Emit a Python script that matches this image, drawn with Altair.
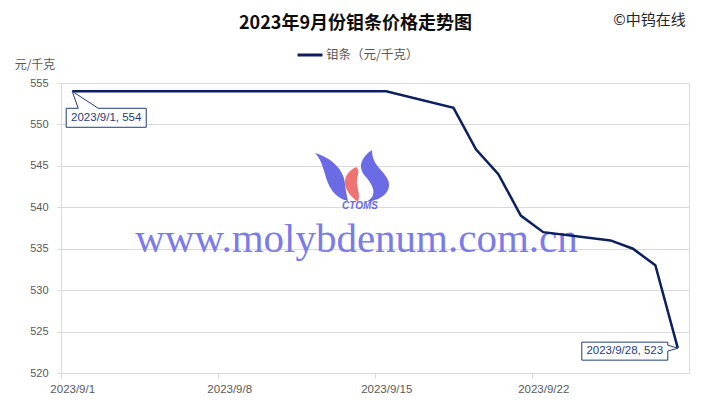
import altair as alt
import pandas as pd

# ---- data ----
dates = ["2023-09-01", "2023-09-04", "2023-09-05", "2023-09-06", "2023-09-07",
         "2023-09-08", "2023-09-11", "2023-09-12", "2023-09-13", "2023-09-14",
         "2023-09-15", "2023-09-18", "2023-09-19", "2023-09-20", "2023-09-21",
         "2023-09-22", "2023-09-25", "2023-09-26", "2023-09-27", "2023-09-28"]
prices = [554, 554, 554, 554, 554,
          554, 554, 554, 554, 554,
          554, 552, 547, 544, 539,
          537, 536, 535, 533, 523]
series_name = "钼条（元/千克）"
title_text = "2023年9月份钼条价格走势图"
copyright_text = "©中钨在线"
y_title = "元/千克"
y_ticks = [520, 525, 530, 535, 540, 545, 550, 555]
watermark_text = "www.molybdenum.com.cn"
logo_text = "CTOMS"

NAVY = "#0c1f5e"
BOX = "#1f3c7a"
GRAY_TXT = "#595959"
GRID = "#d9d9d9"
W, H = 628, 290

df = pd.DataFrame({"date": dates, "price": prices, "series": series_name})
df["label"] = [f"{d[:4]}/{int(d[5:7])}/{int(d[8:10])}, {p}" for d, p in zip(dates, prices)]

first = df.iloc[[0]]
last = df.iloc[[-1]]

x_scale = alt.Scale(type="utc",
                    domain=[alt.DateTime(year=2023, month=8, date=31, hours=12, utc=True),
                            alt.DateTime(year=2023, month=9, date=28, hours=12, utc=True)])
y_scale = alt.Scale(domain=[520, 555], nice=False, zero=False)
half_day = W / 28 / 2

x_enc = alt.X("date:T", scale=x_scale, title=None,
              axis=alt.Axis(values=[alt.DateTime(year=2023, month=9, date=d, utc=True) for d in (1, 8, 15, 22, 29)],
                            labelExpr="utcdate(datum.value) == 29 ? '' : utcFormat(datum.value, '%Y/%-m/%-d')",
                            tickOffset=-half_day, labelOffset=half_day,
                            grid=False, tickSize=5, tickColor=GRID, domainColor=GRID,
                            labelColor=GRAY_TXT, labelFontSize=11.5, labelFont="Liberation Sans",
                            labelPadding=5, labelFlush=False))
y_enc = alt.Y("price:Q", scale=y_scale,
              axis=alt.Axis(values=y_ticks, title=y_title, titleAngle=0, titleAlign="center",
                            titleBaseline="middle", titleX=-26.5, titleY=-19,
                            titleFont="Noto Sans CJK SC", titleFontSize=12, titleFontWeight="normal",
                            titleColor=GRAY_TXT,
                            grid=True, gridColor=GRID, tickSize=4, tickColor=GRID, domainColor=GRID,
                            labelColor=GRAY_TXT, labelFontSize=11, labelFont="Liberation Sans",
                            labelPadding=9))

base = alt.Chart(df)

# watermark
wm = alt.Chart(pd.DataFrame({"t": [watermark_text]})).mark_text(
    font="Liberation Serif", fontSize=41, color="#7b7bea", align="center", baseline="alphabetic"
).encode(text="t:N", x=alt.value(295.5), y=alt.value(169))

logo_paths = [
    ("M-37,-25 C-20,-20 -8,-8 -7,6 C-6,14 -5,19 -4,23 C-18,20 -24,8 -27,-4 C-30,-14 -32,-20 -37,-25 Z", "#6b6be6"),
    ("M4,-11 C-6,-6 -9,2 -6,10 C-3,17 2,21 6,24 C9,16 4,8 5,2 C6,-4 8,-8 4,-11 Z", "#f07373"),
    ("M20,-28 C8,-20 6,-10 13,-2 C22,8 26,18 14,24 C32,22 40,12 36,2 C32,-8 20,-12 20,-28 Z", "#6b6be6"),
]
logo_layers = [
    alt.Chart(pd.DataFrame({"k": [0]})).mark_point(
        shape=p, size=4, filled=True, fill=c, strokeWidth=0, opacity=1
    ).encode(x=alt.value(291), y=alt.value(95))
    for p, c in logo_paths
]
logo_txt = alt.Chart(pd.DataFrame({"t": [logo_text]})).mark_text(
    font="Liberation Sans", fontSize=10, fontWeight="bold", fontStyle="italic",
    color="#6b6be6", align="center", baseline="middle"
).encode(text="t:N", x=alt.value(299), y=alt.value(123))

line = base.mark_line(strokeWidth=2.5).encode(
    x=x_enc, y=y_enc,
    color=alt.Color("series:N", scale=alt.Scale(domain=[series_name], range=[NAVY]),
                    legend=alt.Legend(title=None, orient="none", legendX=235, legendY=-42,
                                      symbolType="stroke", symbolSize=625, symbolStrokeWidth=3,
                                      labelFont="Noto Sans CJK SC", labelFontSize=12.5,
                                      labelColor=GRAY_TXT, labelOffset=2, padding=0))
)

# callouts
box1 = alt.Chart(first).mark_point(
    shape="M0,0 L26,17 L74,17 L74,36 L-6,36 L-6,17 L6,17 Z",
    size=4, filled=False, fill="white", fillOpacity=1, stroke=BOX, strokeWidth=1, opacity=1
).encode(x="date:T", y="price:Q")
txt1 = alt.Chart(first).mark_text(
    font="Liberation Sans", fontSize=11.5, color=BOX, dx=34, dy=26.5, baseline="middle", align="center"
).encode(x="date:T", y="price:Q", text="label:N")

box2 = alt.Chart(last).mark_point(
    shape="M0,0 L-10,3 L-10,12 L-96,12 L-96,-6 L-10,-6 L-10,-3 Z",
    size=4, filled=False, fill="white", fillOpacity=1, stroke=BOX, strokeWidth=1, opacity=1
).encode(x="date:T", y="price:Q")
txt2 = alt.Chart(last).mark_text(
    font="Liberation Sans", fontSize=11.5, color=BOX, dx=-53, dy=3, baseline="middle", align="center"
).encode(x="date:T", y="price:Q", text="label:N")

title_mark = alt.Chart(pd.DataFrame({"t": [title_text]})).mark_text(
    font="Noto Sans CJK SC", fontSize=18, fontWeight="bold", color="#0d0d0d",
    align="center", baseline="middle"
).encode(text="t:N", x=alt.value(294.5), y=alt.value(-59.5))

copy_txt = alt.Chart(pd.DataFrame({"t": [copyright_text]})).mark_text(
    font="Noto Sans CJK SC", fontSize=15, color="#262626", align="center", baseline="middle"
).encode(text="t:N", x=alt.value(588.5), y=alt.value(-63.5))

chart = alt.layer(
    wm, *logo_layers, logo_txt, line, box1, txt1, box2, txt2, title_mark, copy_txt
).properties(
    width=W, height=H,
    autosize=alt.AutoSizeParams(type="none"),
    padding={"left": 53, "top": 75, "right": 13, "bottom": 36},
).configure_view(stroke=GRID, strokeWidth=1).configure(background="white")

chart.save("out.html", embed_options={"renderer": "svg", "actions": False})
